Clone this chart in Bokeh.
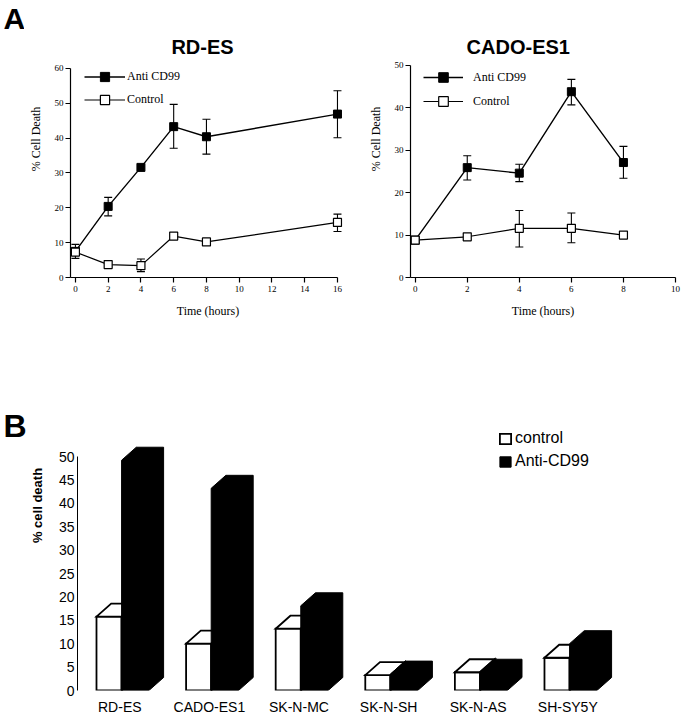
from bokeh.plotting import figure
from bokeh.layouts import column, row
from bokeh.models import Range1d, Legend, LegendItem, Label, FixedTicker
from bokeh.embed import file_html
from bokeh.resources import INLINE

# ---------------- Panel A data ----------------
rdes_time = [0, 2, 4, 6, 8, 16]
rdes_anti = [7.5, 20.4, 31.6, 43.3, 40.4, 46.9]
rdes_anti_lo = [5.5, 17.7, 31.6, 37.1, 35.4, 40.1]
rdes_anti_hi = [9.5, 23.0, 31.6, 49.7, 45.4, 53.6]
rdes_ctrl = [7.3, 3.7, 3.4, 11.9, 10.2, 15.8]
rdes_ctrl_lo = [7.3, 3.0, 1.7, 11.9, 9.5, 13.2]
rdes_ctrl_hi = [7.3, 4.5, 5.3, 11.9, 11.0, 18.2]

cado_time = [0, 2, 4, 6, 8]
cado_anti = [8.8, 25.9, 24.6, 43.8, 27.1]
cado_anti_lo = [8.8, 23.0, 22.6, 40.7, 23.4]
cado_anti_hi = [8.8, 28.7, 26.7, 46.7, 30.9]
cado_ctrl = [8.8, 9.6, 11.6, 11.6, 10.0]
cado_ctrl_lo = [8.8, 8.9, 7.2, 8.2, 10.0]
cado_ctrl_hi = [8.8, 10.3, 15.8, 15.2, 10.0]

# ---------------- Panel B data ----------------
cell_lines = ["RD-ES", "CADO-ES1", "SK-N-MC", "SK-N-SH", "SK-N-AS", "SH-SY5Y"]
b_control = [15.8, 10.0, 13.2, 3.3, 3.9, 7.0]
b_anti = [49.2, 43.2, 18.1, 3.5, 3.9, 10.0]

SERIF = "Liberation Serif"
SANS = "Liberation Sans"


def style_common(p):
    p.xgrid.visible = False
    p.ygrid.visible = False
    p.outline_line_color = None
    p.background_fill_color = "white"
    p.border_fill_color = "white"


def letter_strip(width, height, border_bottom, letter, lx, ly, size):
    s = figure(width=width, height=height, x_range=Range1d(0, width),
               y_range=Range1d(0, height - border_bottom),
               output_backend="svg", toolbar_location=None, title=None,
               x_axis_location=None, y_axis_location=None, min_border_left=0,
               min_border_right=0, min_border_top=0, min_border_bottom=border_bottom)
    style_common(s)
    s.add_layout(Label(x=lx, y=ly, text=letter, text_font=SANS, text_font_size=size,
                       text_font_style="bold", text_color="black",
                       text_baseline="middle"))
    return s


def line_panel(title, tx, ty, width, height, xr, yr, xmax, ymax,
               mbl, mbr, mbb, time, anti, alo, ahi, ctrl, clo, chi,
               leg_loc, leg_gw, leg_gh, leg_standoff):
    p = figure(width=width, height=height, x_range=Range1d(*xr), y_range=Range1d(*yr),
               output_backend="svg", toolbar_location=None, title=None,
               min_border_left=mbl, min_border_right=mbr, min_border_top=0,
               min_border_bottom=mbb)
    style_common(p)
    p.add_layout(Label(x=tx, y=ty, text=title, text_font=SANS, text_font_size="20px",
                       text_font_style="bold", text_color="black", text_align="center",
                       text_baseline="middle"))
    # axes
    p.xaxis.bounds = (xr[0], xmax)
    p.xaxis.ticker = FixedTicker(ticks=list(range(0, xmax + 1, 2)))
    p.yaxis.bounds = (0, ymax)
    p.yaxis.ticker = FixedTicker(ticks=list(range(0, ymax + 1, 10)))
    for ax in (p.xaxis, p.yaxis):
        ax.major_tick_out = 5
        ax.major_tick_in = 0
        ax.minor_tick_line_color = None
        ax.axis_line_width = 1.2
        ax.major_tick_line_width = 1.2
        ax.axis_line_color = "black"
        ax.major_tick_line_color = "black"
        ax.major_label_text_font = SERIF
        ax.major_label_text_font_size = "9px"
        ax.major_label_text_color = "black"
        ax.axis_label_text_font = SERIF
        ax.axis_label_text_font_size = "12px"
        ax.axis_label_text_font_style = "normal"
        ax.axis_label_text_color = "black"
    p.xaxis.major_label_standoff = 3
    p.yaxis.major_label_standoff = 2
    p.xaxis.axis_label = "Time (hours)"
    p.xaxis.axis_label_standoff = 9
    p.yaxis.axis_label = "% Cell Death"
    p.yaxis.axis_label_standoff = 9

    la = p.line(time, anti, line_color="black", line_width=1.4)
    lc = p.line(time, ctrl, line_color="black", line_width=1.2)
    for lo, hi in ((alo, ahi), (clo, chi)):
        keep = [k for k in range(len(time)) if hi[k] - lo[k] > 0.3]
        ex = [time[k] for k in keep]
        el = [lo[k] for k in keep]
        eh = [hi[k] for k in keep]
        p.segment(x0=ex, y0=el, x1=ex, y1=eh, line_color="black", line_width=1.1)
        p.scatter(ex, el, marker="dash", size=8, line_color="black", line_width=1.1)
        p.scatter(ex, eh, marker="dash", size=8, line_color="black", line_width=1.1)
    sa = p.scatter(time, anti, marker="square", size=8, fill_color="black", line_color="black")
    sc = p.scatter(time, ctrl, marker="square", size=8, fill_color="white",
                   line_color="black", line_width=1.2)

    leg = Legend(items=[LegendItem(label="Anti CD99", renderers=[la, sa]),
                        LegendItem(label="Control", renderers=[lc, sc])],
                 location=leg_loc, glyph_width=leg_gw, glyph_height=leg_gh,
                 label_height=leg_gh, spacing=0, padding=0, margin=0,
                 border_line_color=None, background_fill_alpha=0,
                 label_standoff=leg_standoff, label_text_font=SERIF,
                 label_text_font_size="12px", label_text_color="black")
    p.add_layout(leg)
    return p


# top row: frames span from canvas top to a 43 px bottom border
pA = letter_strip(24, 320, 43, "A", 3, 259.5, "30px")
p1 = line_panel("RD-ES", 7.76, 66.2, 321, 320, (-0.3, 16.49), (0, 79.5), 16, 60,
                46, 0, 43, rdes_time, rdes_anti, rdes_anti_lo, rdes_anti_hi,
                rdes_ctrl, rdes_ctrl_lo, rdes_ctrl_hi, (14, 166), 41, 23, 2)
p2 = line_panel("CADO-ES1", 3.96, 54.4, 340, 320, (-0.18, 10.0), (0, 65.3), 10, 50,
                65, 10, 43, cado_time, cado_anti, cado_anti_lo, cado_anti_hi,
                cado_ctrl, cado_ctrl_lo, cado_ctrl_hi, (13, 164), 40, 24, 10)

# ---------------- Panel B ----------------
OFF, WW, WB, DX, DY = 0.26, 0.28, 0.305, 0.164, 2.78

pB = letter_strip(26, 400, 30, "B", 3, 265, "32px")

p3 = figure(width=659, height=400, x_range=Range1d(-0.472, 6.314), y_range=Range1d(0, 79.06),
            output_backend="svg", toolbar_location=None, title=None,
            min_border_left=51, min_border_right=0, min_border_top=0, min_border_bottom=30)
style_common(p3)

wx, wy, bx, by = [], [], [], []
for i, (c, a) in enumerate(zip(b_control, b_anti)):
    x0 = i - OFF
    x1 = x0 + WW
    wx += [[x0, x1, x1, x0], [x0, x0 + DX, x1 + DX, x1], [x1, x1 + DX, x1 + DX, x1]]
    wy += [[0, 0, c, c], [c, c + DY, c + DY, c], [0, DY, c + DY, c]]
    x2 = x1 + WB
    bx.append([x1, x2, x2 + DX, x2 + DX, x1 + DX, x1])
    by.append([0, 0, DY, a + DY, a + DY, a])

rw = p3.patches(wx, wy, fill_color="white", line_color="black", line_width=1.8,
                line_join="miter")
rb = p3.patches(bx, by, fill_color="black", line_color="black", line_width=1.0)

p3.yaxis.bounds = (0, 50)
p3.yaxis.ticker = FixedTicker(ticks=list(range(0, 51, 5)))
p3.yaxis.major_tick_out = 0
p3.yaxis.major_tick_in = 0
p3.yaxis.minor_tick_line_color = None
p3.yaxis.axis_line_width = 1.0
p3.yaxis.axis_line_color = "black"
p3.yaxis.major_label_text_font = SANS
p3.yaxis.major_label_text_font_size = "14px"
p3.yaxis.major_label_text_color = "black"
p3.yaxis.major_label_standoff = 3
p3.yaxis.axis_label = "% cell death"
p3.yaxis.axis_label_text_font = SANS
p3.yaxis.axis_label_text_font_size = "13px"
p3.yaxis.axis_label_text_font_style = "bold"
p3.yaxis.axis_label_text_color = "black"
p3.yaxis.axis_label_standoff = 11

p3.xaxis.ticker = FixedTicker(ticks=list(range(len(cell_lines))))
p3.xaxis.major_label_overrides = {i: n for i, n in enumerate(cell_lines)}
p3.xaxis.axis_line_color = None
p3.xaxis.major_tick_line_color = None
p3.xaxis.minor_tick_line_color = None
p3.xaxis.major_label_text_font = SANS
p3.xaxis.major_label_text_font_size = "14px"
p3.xaxis.major_label_text_color = "black"
p3.xaxis.major_label_standoff = 2

leg3 = Legend(items=[LegendItem(label="control", renderers=[rw]),
                     LegendItem(label="Anti-CD99", renderers=[rb])],
              location=(421, 219), glyph_width=14, glyph_height=13, label_height=20,
              spacing=3, padding=0, margin=0, border_line_color=None,
              background_fill_alpha=0, label_standoff=3, label_text_font=SANS,
              label_text_font_size="16px", label_text_color="black")
p3.add_layout(leg3)

layout = column(row(pA, p1, p2), row(pB, p3))
open("out.html", "w").write(file_html(layout, INLINE))
